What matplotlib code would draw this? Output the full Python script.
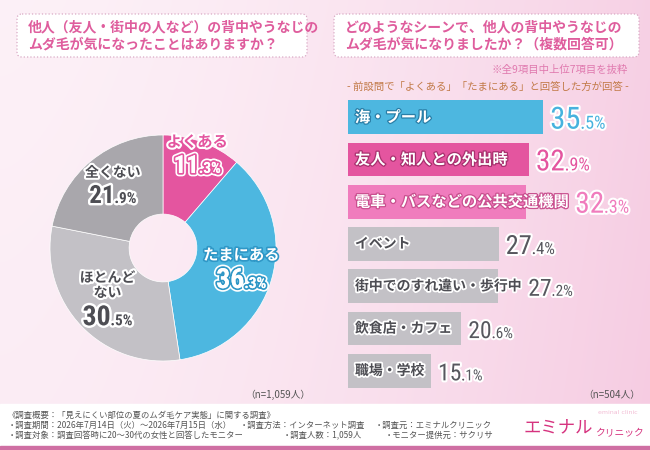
import numpy as np
import matplotlib
matplotlib.use('Agg')
import matplotlib.pyplot as plt
from matplotlib import font_manager as fm
from matplotlib.patches import FancyBboxPatch, Rectangle
from matplotlib.offsetbox import TextArea, HPacker, VPacker, AnnotationBbox
import matplotlib.patheffects as pe

JP = 'Noto Sans CJK JP'
_names = {f.name for f in fm.fontManager.ttflist}
if 'Liberation Sans Narrow' in _names:
    NUM = 'Liberation Sans Narrow'
elif 'Roboto Condensed' in _names:
    NUM = 'Roboto Condensed'
else:
    NUM = 'Liberation Sans'
plt.rcParams['font.family'] = [JP, 'DejaVu Sans']

# ---------------- data ----------------
pie_labels = ['よくある', 'たまにある', 'ほとんど\nない', '全くない']
pie_values = [11.3, 36.3, 30.5, 21.9]
pie_n = '（n=1,059人）'

bar_labels = ['海・プール', '友人・知人との外出時', '電車・バスなどの公共交通機関',
              'イベント', '街中でのすれ違い・歩行中', '飲食店・カフェ', '職場・学校']
bar_values = [35.5, 32.9, 32.3, 27.4, 27.2, 20.6, 15.1]
bar_n = '（n=504人）'

left_title = ['他人（友人・街中の人など）の背中やうなじの', 'ムダ毛が気になったことはありますか？']
right_title = ['どのようなシーンで、他人の背中やうなじの', 'ムダ毛が気になりましたか？（複数回答可）']
note1 = '※全9項目中上位7項目を抜粋'
note2 = '- 前設問で「よくある」「たまにある」と回答した方が回答 -'
footer = [
    [(8, '《調査概要：「見えにくい部位の夏のムダ毛ケア実態」に関する調査》')],
    [(8, '・調査期間：2026年7月14日（火）〜2026年7月15日（水）'),
     (240, '・調査方法：インターネット調査'), (375, '・調査元：エミナルクリニック')],
    [(8, '・調査対象：調査回答時に20〜30代の女性と回答したモニター'),
     (283, '・調査人数：1,059人'), (385, '・モニター提供元：サクリサ')],
]

# ---------------- style ----------------
PINK = '#e4559f'
LPINK = '#f07cbd'
BLUE = '#4db7e0'
GRAY = '#c3c1c6'
DGRAY = '#a9a7ac'
TXT = '#4d4d53'
TITLE = '#df5d9d'

W, H = 650, 450
fig = plt.figure(figsize=(6.5, 4.5), dpi=100)

bg = fig.add_axes([0, 0, 1, 1], zorder=0)
bg.set_xlim(0, W)
bg.set_ylim(H, 0)
bg.axis('off')
gx = np.linspace(0, 1, 160)
gy = np.linspace(0, 1, 110)
X, Y = np.meshgrid(gx, gy)
t = np.clip(0.08 + 0.8 * X ** 1.6 + 0.12 * Y, 0, 1)
c0 = np.array([253, 244, 249]) / 255
c1 = np.array([246, 204, 226]) / 255
img = c0[None, None, :] * (1 - t[..., None]) + c1[None, None, :] * t[..., None]
bg.imshow(img, extent=(0, W, H, 0), aspect='auto', interpolation='bicubic', zorder=0)

# footer band
bg.add_patch(Rectangle((0, 404), W, 43, color='white', zorder=1))
bg.add_patch(Rectangle((0, 446), W, 4, color='#cf6fa3', zorder=1))

# title boxes
for (x0, x1), lines in [((17, 307), left_title), ((334, 639), right_title)]:
    bg.add_patch(FancyBboxPatch((x0, 14), x1 - x0, 43,
                                boxstyle='round,pad=0,rounding_size=5',
                                fc='white', ec='#d9aac5', ls=':', lw=0.9, zorder=2))
    for k, ln in enumerate(lines):
        bg.text(x0 + 11, 27 + 18 * k, ln, ha='left', va='center', fontsize=10,
                fontweight='bold', color=TITLE, zorder=3)

bg.text(628, 70, note1, ha='right', va='center', fontsize=7.5, color='#e07aaf', zorder=3)
bg.text(488, 87, note2, ha='center', va='center', fontsize=7.5, color='#c27a48', zorder=3)
bg.text(310, 395, pie_n, ha='right', va='center', fontsize=7, color='#555555', zorder=3)
bg.text(640, 395, bar_n, ha='right', va='center', fontsize=7, color='#555555', zorder=3)

for k, row in enumerate(footer):
    for x, s in row:
        bg.text(x, 415 + 10 * k, s, ha='left', va='center', fontsize=6,
                color='#555555', zorder=3)

bg.text(524, 427, 'エミナル', ha='left', va='center', fontsize=12.5, color='#d6337f', zorder=3)
bg.text(595, 433, 'クリニック', ha='left', va='center', fontsize=7, color='#d6337f', zorder=3)
bg.text(618, 413, 'eminal clinic', ha='center', va='center', fontsize=4.5,
        color='#f2bcd4', family='DejaVu Sans', zorder=3)

# ---------------- donut ----------------
pax = fig.add_axes([50 / W, 1 - 361 / H, 226 / W, 226 / H], zorder=2)
pie_colors = [PINK, BLUE, GRAY, DGRAY]
pax.pie(pie_values, colors=pie_colors, startangle=90, counterclock=False, radius=1,
        wedgeprops=dict(width=0.7, edgecolor='white', linewidth=0.5))
pax.set_xlim(-1, 1)
pax.set_ylim(-1, 1)
pax.set_aspect('equal')
pax.axis('off')

label_r = [0.87, 0.72, 0.68, 0.70]
cum = np.cumsum([0] + pie_values[:-1])


def stroke_fx(inner, outer='white'):
    return [pe.withStroke(linewidth=5, foreground=outer),
            pe.withStroke(linewidth=2.6, foreground=inner), pe.Normal()]


for i, (lab, v) in enumerate(zip(pie_labels, pie_values)):
    mid = np.deg2rad(90 - (cum[i] + v / 2) * 3.6)
    r = label_r[i]
    x, y = r * np.cos(mid), r * np.sin(mid)
    ip, dp = f'{v:.1f}'.split('.')
    if i == 0:
        name_props = dict(color=PINK, path_effects=[pe.withStroke(linewidth=3, foreground='white')])
        num_col, num_fx = 'white', stroke_fx(PINK)
    elif i == 1:
        name_props = dict(color='white', path_effects=[pe.withStroke(linewidth=2.4, foreground='#2f97c6')])
        num_col, num_fx = 'white', stroke_fx('#2f97c6')
    else:
        name_props = dict(color=TXT, path_effects=[pe.withStroke(linewidth=3, foreground='white')])
        num_col, num_fx = TXT, [pe.withStroke(linewidth=3.5, foreground='white')]
    fs = 11 if i < 2 else 10
    name = TextArea(lab, textprops=dict(fontsize=fs, fontweight='bold', multialignment='center',
                                        linespacing=1.1, **name_props))
    num = HPacker(children=[
        TextArea(ip, textprops=dict(fontsize=20 if i in (1, 2) else 18, fontweight='bold',
                                    family=NUM, color=num_col, path_effects=num_fx)),
        TextArea('.' + dp + '%', textprops=dict(fontsize=11, fontweight='bold', family=NUM,
                                                color=num_col, path_effects=num_fx)),
    ], align='baseline', pad=0, sep=0)
    box = VPacker(children=[name, num], align='center', pad=0, sep=3)
    ab = AnnotationBbox(box, (x, y), xycoords='data', box_alignment=(0.5, 0.5),
                        frameon=False, pad=0, annotation_clip=False)
    pax.add_artist(ab)

# ---------------- bars ----------------
n = len(bar_values)
bax = fig.add_axes([348 / W, 1 - 392 / H, 275 / W, 296 / H], zorder=2)
bax.set_xlim(0, 50)
bax.set_ylim(n - 0.5, -0.5)
bax.axis('off')
bar_colors = [BLUE, PINK, LPINK] + [GRAY] * 4
bax.barh(range(n), bar_values, height=0.8, color=bar_colors)

val_colors = ['#47b2de', PINK, LPINK] + ['#57575e'] * 4
lab_fx = ['#2a7fa8', '#a8306e', '#c9508f']
int_sizes = [22, 21, 21, 19, 17, 17, 17]
dec_sizes = [13, 13, 13, 12, 11, 11, 11]

labels = []
for i, lab in enumerate(bar_labels):
    if i < 3:
        props = dict(color='white', fontsize=11,
                     path_effects=[pe.withStroke(linewidth=1.8, foreground=lab_fx[i])])
    else:
        props = dict(color=TXT, fontsize=10,
                     path_effects=[pe.withStroke(linewidth=2.5, foreground='white')])
    t_ = bax.annotate(lab, (0, i), xytext=(5, 0), textcoords='offset points',
                      ha='left', va='center', fontweight='bold', **props)
    labels.append(t_)

fig.canvas.draw()
renderer = fig.canvas.get_renderer()
for i, v in enumerate(bar_values):
    ext = labels[i].get_window_extent(renderer)
    bx, by = bax.transData.transform((v, i))
    x0 = max(bx, ext.x1) + 7
    ip, dp = f'{v:.1f}'.split('.')
    fx = [pe.withStroke(linewidth=3, foreground='white')]
    box = HPacker(children=[
        TextArea(ip, textprops=dict(fontsize=int_sizes[i], family=NUM, color=val_colors[i],
                                    path_effects=fx)),
        TextArea('.' + dp + '%', textprops=dict(fontsize=dec_sizes[i], family=NUM,
                                                color=val_colors[i], path_effects=fx)),
    ], align='baseline', pad=0, sep=0)
    ab = AnnotationBbox(box, (x0, by - 3), xycoords='figure pixels', box_alignment=(0, 0.5),
                        frameon=False, pad=0, annotation_clip=False)
    bax.add_artist(ab)

fig.savefig('out.png', dpi=100)
